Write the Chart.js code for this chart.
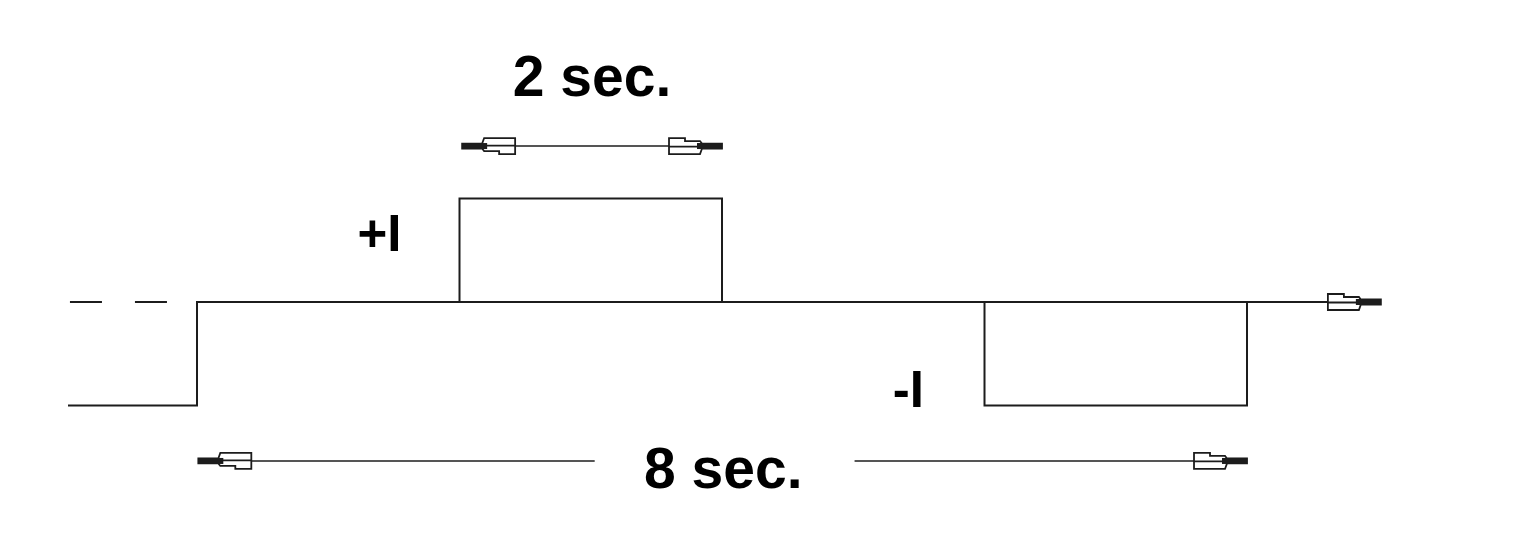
<!DOCTYPE html>
<html>
<head>
<meta charset="utf-8">
<script src="https://cdn.jsdelivr.net/npm/chart.js@4/dist/chart.umd.min.js"></script>
<style>
html,body{margin:0;padding:0;background:#fff;}
#wrap{width:1533px;height:536px;}
</style>
</head>
<body>
<div id="wrap"><canvas id="c" width="1533" height="536"></canvas></div>
<script>
// Waveform (time in seconds, level in units of I)
const waveT = [-0.983, 0, 0, 2, 2, 4, 4, 6, 6, 8, 8];
const waveI = [-1, -1, 0, 0, 1, 1, 0, 0, -1, -1, 0];
// Time axis (baseline) with arrow
const axisT = [8, 9.02];
const axisI = [0, 0];
// Dashed baseline before t=0
const dashT = [-0.968, 0];
const dashI = [0, 0];
// Dimension arrows
const dim2T = [2.02, 4.0];
const dim2Y = [1.507, 1.507];
const dim8LeftT = [0.01, 3.03];
const dim8RightT = [5.01, 8.0];
const dim8Y = [-1.536, -1.536];
// Labels
const labelTexts = ["2 sec.", "8 sec.", "+I", "-I"];
const labelT = [3.01, 4.01, 1.39, 5.42];
const labelY = [2.14, -1.65, 0.625, -0.88];

const ink = '#1c1c1c';
const pts = (xs, ys) => xs.map((x, i) => ({x: x, y: ys[i]}));

const arrowPlugin = {
  id: 'arrowheads',
  afterDatasetsDraw(chart) {
    const ctx = chart.ctx;
    chart.data.datasets.forEach((ds, di) => {
      const meta = chart.getDatasetMeta(di);
      const p = meta.data;
      if (!p.length) return;
      const draw = (tip, from) => {
        const ang = Math.atan2(tip.y - from.y, tip.x - from.x);
        ctx.save();
        ctx.translate(tip.x, tip.y);
        ctx.rotate(ang);
        ctx.fillStyle = '#fff';
        ctx.strokeStyle = ink;
        ctx.lineWidth = 1.8;
        ctx.beginPath();
        ctx.moveTo(-53, -8);
        ctx.lineTo(-37, -8);
        ctx.lineTo(-37, -5);
        ctx.lineTo(-22, -5);
        ctx.lineTo(-20, -2.5);
        ctx.lineTo(0, -2.5);
        ctx.lineTo(0, 2.5);
        ctx.lineTo(-20, 2.5);
        ctx.lineTo(-22, 8);
        ctx.lineTo(-53, 8);
        ctx.closePath();
        ctx.fill();
        ctx.stroke();
        ctx.beginPath();
        ctx.moveTo(-53, 0.5);
        ctx.lineTo(-20, 0.5);
        ctx.stroke();
        ctx.fillStyle = ink;
        ctx.fillRect(-25, -3, 25, 6);
        ctx.restore();
      };
      if (ds.arrowEnd) draw(p[p.length - 1], p[p.length - 2]);
      if (ds.arrowStart) draw(p[0], p[1]);
    });
  }
};

const labelPlugin = {
  id: 'labels',
  afterDraw(chart) {
    const ctx = chart.ctx;
    const xs = chart.scales.x, ys = chart.scales.y;
    ctx.save();
    ctx.fillStyle = '#000';
    ctx.textAlign = 'center';
    ctx.textBaseline = 'middle';
    labelTexts.forEach((t, i) => {
      const big = t.indexOf('sec') >= 0;
      ctx.font = 'bold ' + (big ? 57 : 51) + 'px "Liberation Sans", Arial, sans-serif';
      ctx.fillText(t, xs.getPixelForValue(labelT[i]), ys.getPixelForValue(labelY[i]));
    });
    ctx.restore();
  }
};

const lineDs = (data, extra) => Object.assign({
  data: data,
  borderColor: ink,
  borderWidth: 2,
  pointRadius: 0,
  tension: 0,
  fill: false
}, extra || {});

new Chart(document.getElementById('c'), {
  type: 'line',
  data: {
    datasets: [
      lineDs(pts(waveT, waveI)),
      lineDs(pts([0, 8], [0, 0])),
      lineDs(pts(axisT, axisI), {arrowEnd: true}),
      lineDs(pts(dashT, dashI), {borderDash: [32, 33]}),
      lineDs(pts(dim2T, dim2Y), {arrowStart: true, arrowEnd: true, borderWidth: 1.6}),
      lineDs(pts(dim8LeftT, dim8Y), {arrowStart: true, borderWidth: 1.6}),
      lineDs(pts(dim8RightT, dim8Y), {arrowEnd: true, borderWidth: 1.6})
    ]
  },
  options: {
    responsive: false,
    animation: false,
    layout: {padding: 0},
    plugins: {legend: {display: false}, tooltip: {enabled: false}},
    scales: {
      x: {type: 'linear', display: false, min: -1.501, max: 10.179},
      y: {type: 'linear', display: false, min: -2.261, max: 2.918}
    }
  },
  plugins: [arrowPlugin, labelPlugin]
});
</script>
</body>
</html>
